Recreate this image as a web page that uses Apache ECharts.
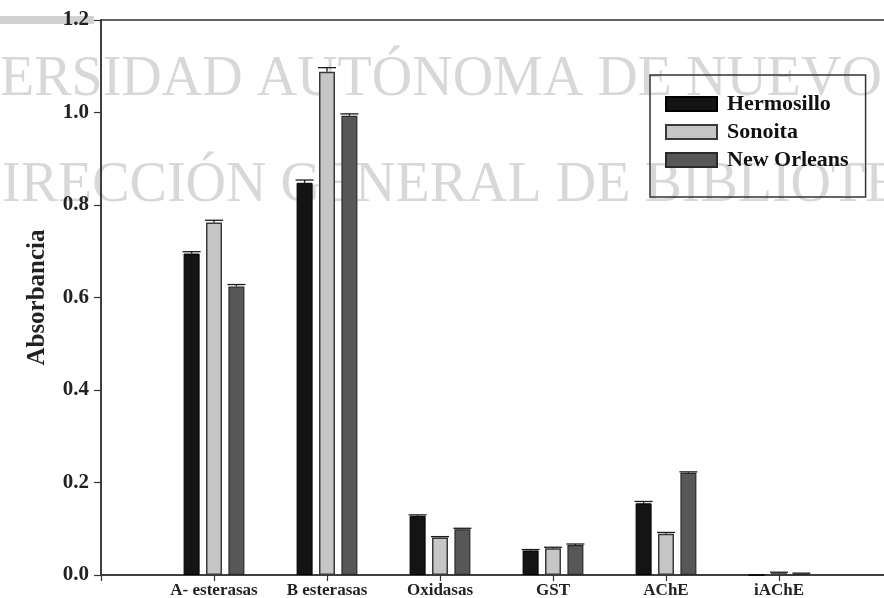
<!DOCTYPE html>
<html>
<head>
<meta charset="utf-8">
<script src="https://cdn.jsdelivr.net/npm/echarts@6/dist/echarts.min.js"></script>
<style>
  html, body { margin: 0; padding: 0; background: #fff; }
  #chart { width: 884px; height: 598px; }
</style>
</head>
<body>
<div id="chart"></div>
<script>
// Enzyme activity (absorbance) per assay and population
const categories = ['A- esterasas', 'B esterasas', 'Oxidasas', 'GST', 'AChE', 'iAChE'];
const hermosillo = [0.695, 0.848, 0.128, 0.053, 0.155, 0.0];
const sonoita = [0.762, 1.088, 0.081, 0.058, 0.089, 0.004];
const newOrleans = [0.624, 0.993, 0.099, 0.065, 0.221, 0.003];
// standard errors
const hermosilloErr = [0.004, 0.006, 0.002, 0.002, 0.004, 0.0];
const sonoitaErr = [0.005, 0.009, 0.002, 0.002, 0.003, 0.002];
const newOrleansErr = [0.004, 0.004, 0.002, 0.002, 0.002, 0.001];
const yTicks = [0.0, 0.2, 0.4, 0.6, 0.8, 1.0, 1.2];

const serif = '"Liberation Serif", "DejaVu Serif", serif';
const BAR_W = 16;
const BAR_STEP = 22.4; // bar width + gap

// categories sit at x = 1..6 on a 0..7 value axis
const pos = categories.map((_, i) => i + 1);
const toBars = vals => vals.map((v, i) => [pos[i], v]);
const toErr = (vals, errs) => vals.map((v, i) => [pos[i], v, errs[i]]);

function errorBar(offset) {
  return function (params, api) {
    const x = api.value(0), v = api.value(1), e = api.value(2);
    if (!e) return null;
    const p0 = api.coord([x, v]);
    const p1 = api.coord([x, v + e]);
    const cx = p0[0] + offset;
    const st = { stroke: '#1a1a1a', lineWidth: 1.3 };
    return {
      type: 'group',
      children: [
        { type: 'line', shape: { x1: cx, y1: p0[1], x2: cx, y2: p1[1] }, style: st },
        { type: 'line', shape: { x1: cx - 9, y1: p1[1], x2: cx + 9, y2: p1[1] }, style: st }
      ]
    };
  };
}

const chart = echarts.init(document.getElementById('chart'), null, { renderer: 'canvas' });

const barStyles = [
  { color: '#141414', borderColor: '#000', borderWidth: 1 },
  { color: '#c6c6c6', borderColor: '#3a3a3a', borderWidth: 1.5 },
  { color: '#575757', borderColor: '#2a2a2a', borderWidth: 1.2 }
];

chart.setOption({
  animation: false,
  backgroundColor: '#fff',
  graphic: [
    {
      type: 'rect', z: -10,
      shape: { x: 0, y: 16, width: 94, height: 8 },
      style: { fill: '#d2d2d2' }
    },
    {
      type: 'text', z: -10, left: 0, top: 52,
      style: { text: 'ERSIDAD AUTÓNOMA DE NUEVO', font: '56px ' + serif, fill: '#d8d8d8' }
    },
    {
      type: 'text', z: -10, left: 2, top: 158,
      style: { text: 'IRECCIÓN GENERAL DE BIBLIOTEC', font: '56px ' + serif, fill: '#d8d8d8' }
    }
  ],
  grid: {
    left: 101, top: 20, width: 791, bottom: 23,
    outerBoundsMode: 'none',
    show: true, borderColor: '#333', borderWidth: 1.5, backgroundColor: 'transparent',
    containLabel: false
  },
  legend: {
    orient: 'vertical',
    left: 650, top: 75,
    padding: [18, 17, 26, 15],
    itemWidth: 51, itemHeight: 14, itemGap: 6,
    borderColor: '#333', borderWidth: 1.5,
    icon: 'rect',
    textStyle: { fontFamily: serif, fontWeight: 'bold', fontSize: 22, color: '#111', padding: [0, 0, 0, 5] },
    data: ['Hermosillo', 'Sonoita', 'New Orleans']
  },
  xAxis: {
    type: 'value', min: 0, max: 7, interval: 1,
    splitLine: { show: false },
    axisLine: { lineStyle: { color: '#333', width: 1.5 } },
    axisTick: { length: 6, lineStyle: { color: '#333', width: 1.2 } },
    axisLabel: {
      margin: 7,
      fontFamily: serif, fontWeight: 'bold', fontSize: 17, color: '#222',
      formatter: v => (v >= 1 && v <= categories.length) ? categories[v - 1] : ''
    }
  },
  yAxis: {
    type: 'value', min: 0, max: 1.2, interval: 0.2,
    splitLine: { show: false },
    axisLine: { show: true, lineStyle: { color: '#333', width: 1.5 } },
    axisTick: { show: true, length: 7, lineStyle: { color: '#333', width: 1.2 } },
    axisLabel: {
      margin: 12,
      fontFamily: serif, fontWeight: 'bold', fontSize: 21, color: '#222',
      formatter: v => {
        const t = yTicks.find(t => Math.abs(t - v) < 1e-6);
        return t === undefined ? '' : t.toFixed(1);
      }
    },
    name: 'Absorbancia',
    nameLocation: 'middle',
    nameRotate: 90,
    nameGap: 51,
    nameTextStyle: { fontFamily: serif, fontWeight: 'bold', fontSize: 25, color: '#222' }
  },
  series: [
    { name: 'Hermosillo', type: 'bar', barWidth: BAR_W, barGap: '40%', data: toBars(hermosillo), itemStyle: barStyles[0] },
    { name: 'Sonoita', type: 'bar', barWidth: BAR_W, barGap: '40%', data: toBars(sonoita), itemStyle: barStyles[1] },
    { name: 'New Orleans', type: 'bar', barWidth: BAR_W, barGap: '40%', data: toBars(newOrleans), itemStyle: barStyles[2] },
    { type: 'custom', z: 5, renderItem: errorBar(-BAR_STEP), data: toErr(hermosillo, hermosilloErr), silent: true },
    { type: 'custom', z: 5, renderItem: errorBar(0), data: toErr(sonoita, sonoitaErr), silent: true },
    { type: 'custom', z: 5, renderItem: errorBar(BAR_STEP), data: toErr(newOrleans, newOrleansErr), silent: true }
  ]
});
</script>
</body>
</html>
